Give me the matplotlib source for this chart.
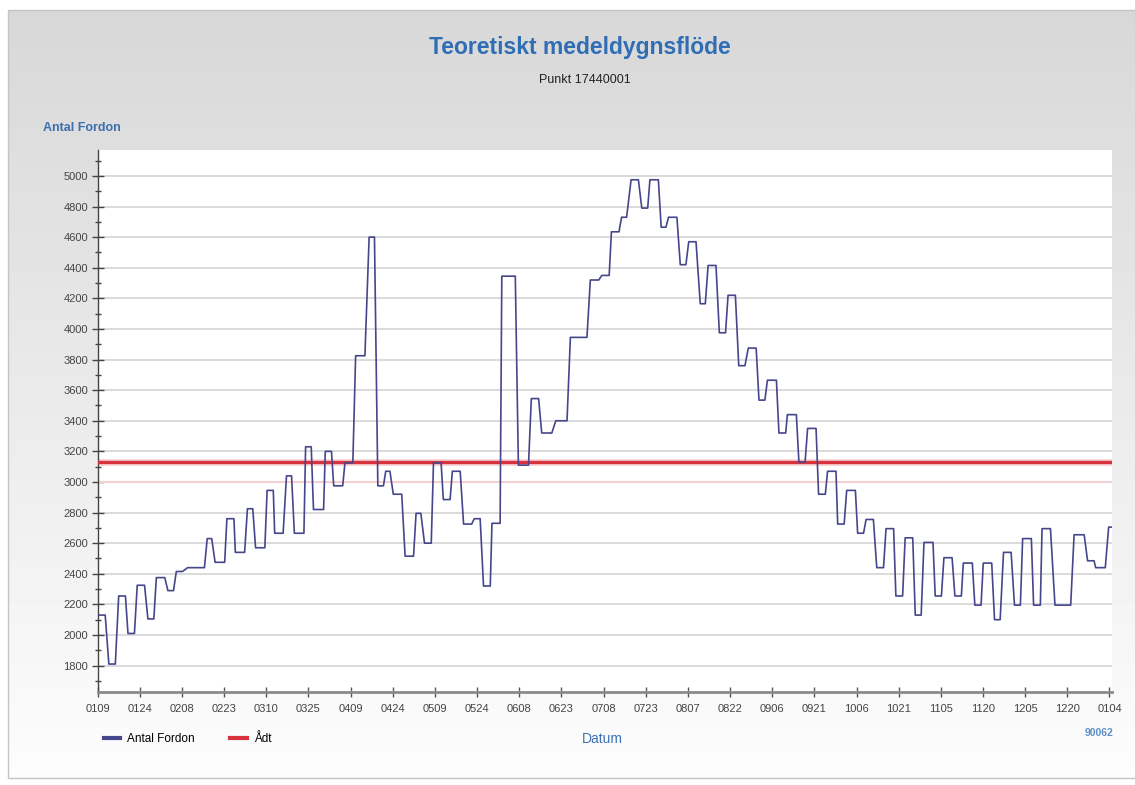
import matplotlib
matplotlib.use('Agg')
import matplotlib.pyplot as plt
from matplotlib.lines import Line2D
from matplotlib.patches import Rectangle
from matplotlib.ticker import MultipleLocator
import numpy as np

plt.rcParams['font.family'] = ['Liberation Sans', 'DejaVu Sans']

# Daily flow: first day, last day, vehicles (day 0 = 9 Jan)
plateau_start = [0, 4, 7.5, 10.8, 14.1, 17.9, 20.9, 25, 28, 32, 39, 41.8, 46, 49, 53.3, 56.2,
                 60.3, 63, 67.2, 70, 74, 76.8, 81, 84, 88, 91.8, 96.6, 99.7, 102.5, 105.2,
                 109.4, 113.3, 116.3, 119.5, 123, 126.2, 130.2, 134, 137.3, 140.3, 143.8,
                 149.7, 154.3, 158, 163, 168.2, 175.3, 179.4, 182.8, 186.4, 189.8, 193.6,
                 196.5, 200.5, 203.1, 207.3, 210.3, 214.4, 217.2, 221.2, 224.3, 228.1, 231.5,
                 235.3, 238.3, 242.4, 245.4, 249.5, 252.6, 256.5, 259.7, 263.3, 266.5, 270.4,
                 273.4, 277.2, 280.5, 284, 287.3, 290.9, 294, 298, 301.1, 305, 308, 312.1,
                 315.1, 319.1, 322.3, 326.2, 329.1, 333, 336, 340.6, 347.4, 352.2, 355.1, 359.7]
plateau_end = [2.7, 6.3, 9.9, 13.1, 16.7, 20, 23.9, 27, 30.2, 38, 40.6, 45.2, 48.5, 52.3, 55.2,
               59.5, 62.5, 66, 69, 73.4, 76, 80.4, 83.2, 87.2, 90.8, 95.1, 98.5, 101.7, 104,
               108.2, 112.4, 115, 118.7, 122.2, 125.4, 129, 133.1, 136.1, 139.7, 143.2, 148.6,
               153.3, 156.9, 161.6, 167, 174.1, 178.3, 182, 185.5, 188.2, 192.4, 195.7, 199.5,
               202.2, 206.1, 209.3, 212.9, 216.2, 220, 223.4, 226.9, 230.3, 234.3, 237.4,
               241.5, 244.8, 248.6, 251.7, 255.6, 258.9, 262.7, 265.6, 269.6, 272.5, 276,
               279.6, 283.2, 286.4, 290, 293, 297.2, 300.2, 304, 307.3, 311.2, 314.3, 318.1,
               321.1, 325, 328.3, 332.2, 335.4, 339, 346.2, 351, 354.5, 358.5, 361]
plateau_value = [2130, 1810, 2255, 2010, 2325, 2105, 2375, 2290, 2415, 2440, 2630, 2475, 2760,
                 2540, 2825, 2570, 2945, 2665, 3040, 2665, 3230, 2820, 3200, 2975, 3125, 3825,
                 4600, 2975, 3070, 2920, 2515, 2795, 2600, 3125, 2885, 3070, 2725, 2760, 2320,
                 2730, 4345, 3110, 3545, 3320, 3400, 3945, 4320, 4350, 4635, 4730, 4975, 4790,
                 4975, 4665, 4730, 4420, 4570, 4165, 4415, 3975, 4220, 3760, 3875, 3535, 3665,
                 3320, 3440, 3130, 3350, 2920, 3070, 2725, 2945, 2665, 2755, 2440, 2695, 2255,
                 2635, 2130, 2605, 2255, 2505, 2255, 2470, 2195, 2470, 2100, 2540, 2195, 2630,
                 2195, 2695, 2195, 2655, 2485, 2440, 2705]
adt = 3130

date_labels = ['0109', '0124', '0208', '0223', '0310', '0325', '0409', '0424', '0509',
               '0524', '0608', '0623', '0708', '0723', '0807', '0822', '0906', '0921',
               '1006', '1021', '1105', '1120', '1205', '1220', '0104']
date_ticks = [15 * i for i in range(len(date_labels))]

BLUE = '#2f6db5'
LINE = '#46468c'
RED = '#d9323f'

# each plateau becomes two points, so the line shows the flat steps
days, fordon = [], []
for s, e, v in zip(plateau_start, plateau_end, plateau_value):
    days += [s, e]
    fordon += [v, v]

fig = plt.figure(figsize=(11.35, 7.85), dpi=100)

# grey panel with a soft top-to-bottom fade
bg = fig.add_axes([0, 0, 1, 1], zorder=-2)
bg.set_xlim(0, 1135)
bg.set_ylim(785, 0)
bg.axis('off')
grad = np.linspace(0.845, 0.99, 256).reshape(-1, 1)
bg.imshow(grad, cmap='gray', vmin=0, vmax=1, extent=(8, 1135, 778, 10), aspect='auto')
bg.add_patch(Rectangle((8, 10), 1140, 768, fill=False, edgecolor='#c4c4c4', lw=1))

ax = fig.add_axes([0.086, 0.118, 0.894, 0.691])
ax.set_facecolor('white')

ax.plot(days, fordon, color=LINE, lw=1.2, zorder=4)
ax.axhline(adt, color=RED, lw=5, alpha=0.2, zorder=3)
ax.axhline(adt, color=RED, lw=2.4, zorder=3)
ax.axhline(3000, color='#f5d0d0', lw=1.5, zorder=2)

ax.set_xlim(0, 361)
ax.set_ylim(1625, 5170)
ax.set_xticks(date_ticks)
ax.set_xticklabels(date_labels)
ax.yaxis.set_major_locator(MultipleLocator(200))
ax.yaxis.set_minor_locator(MultipleLocator(100))
ax.set_yticks([v for v in range(1800, 5001, 200)])

ax.grid(axis='y', which='major', color='#d8d8d8', lw=1.3, zorder=1)
ax.set_axisbelow(True)

for side in ['top', 'right']:
    ax.spines[side].set_visible(False)
ax.spines['left'].set_color('#444444')
ax.spines['left'].set_linewidth(1)
ax.spines['bottom'].set_color('#8a8a8a')
ax.spines['bottom'].set_linewidth(2)

ax.tick_params(axis='y', which='major', direction='inout', length=8, width=1,
               color='#444444', labelsize=8, labelcolor='#444444', pad=3)
ax.tick_params(axis='y', which='minor', direction='inout', length=5, width=1, color='#444444')
ax.tick_params(axis='x', direction='inout', length=7, width=1, color='#555555',
               labelsize=8, labelcolor='#444444', pad=5)

fig.text(0.511, 0.939, 'Teoretiskt medeldygnsflöde', ha='center', va='center',
         fontsize=16.5, fontweight='bold', color=BLUE)
fig.text(0.515, 0.898, 'Punkt 17440001', ha='center', va='center', fontsize=9, color='#222222')
fig.text(0.038, 0.837, 'Antal Fordon', ha='left', va='center', fontsize=9,
         fontweight='bold', color='#3d6eae')
fig.text(0.531, 0.059, 'Datum', ha='center', va='center', fontsize=10, color='#3d72b5')
fig.text(0.981, 0.066, '90062', ha='right', va='center', fontsize=7.5,
         fontweight='bold', color='#5b8fc7')

handles = [Line2D([], [], color=LINE, lw=3), Line2D([], [], color=RED, lw=3)]
fig.legend(handles, ['Antal Fordon', 'Ådt'], loc='center left', bbox_to_anchor=(0.082, 0.059),
           ncol=2, frameon=False, fontsize=8.5, handlelength=1.4, columnspacing=3.0,
           handletextpad=0.6)

fig.savefig('out.png', dpi=100)
